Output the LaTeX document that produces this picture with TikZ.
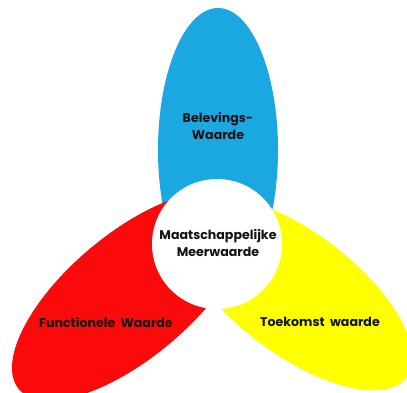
\documentclass[tikz,border=0pt]{standalone}
\usepackage{fontspec}
\newfontfamily\petalfont{Poppins}[UprightFont=* Bold, BoldFont=* Bold]
\definecolor{petalblue}{HTML}{1BA8E0}
\definecolor{petalred}{HTML}{FA0A0A}
\definecolor{petalyellow}{HTML}{FFFF00}
\definecolor{txt}{HTML}{141414}
\tikzset{
  lbl/.style={font=\petalfont\fontsize{12.6}{16.5}\selectfont, text=txt, align=center, inner sep=0pt},
}
\begin{document}
\begin{tikzpicture}[x=1pt,y=-1pt]
\useasboundingbox (0,0) rectangle (407,392);
\fill[white] (0,0) rectangle (407,392);
% petals
\fill[petalblue] (218,150) ellipse [x radius=60, y radius=142];
\fill[petalred, rotate around={40:(130,296)}] (130,296) ellipse [x radius=145, y radius=62];
\fill[petalyellow, rotate around={-37:(295,293)}] (295,293) ellipse [x radius=140, y radius=61];
% centre
\node[circle, fill=white, minimum size=130pt, inner sep=0pt] (core) at (217,244) {};
% labels
\node[lbl] (bel) at (218,126) {Belevings-\\Waarde};
\node[lbl] (maat) at (218,243) {Maatschappelijke\\Meerwaarde};
\node[lbl] (func) at (106,322) {Functionele\ \ Waarde};
\node[lbl] (toek) at (320,322) {Toekomst\ \ waarde};
\end{tikzpicture}
\end{document}
